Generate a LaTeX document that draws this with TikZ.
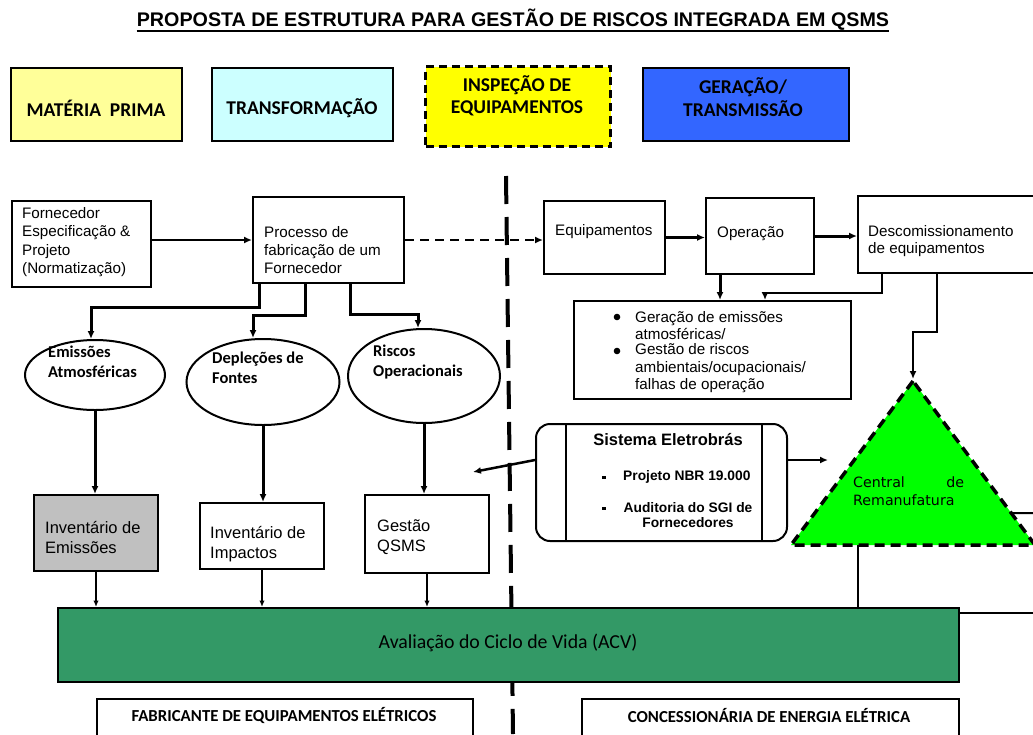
\documentclass[tikz,border=0pt]{standalone}
\usepackage{fontspec}
\setmainfont{Liberation Sans}
\newfontfamily\calfont{Carlito}
\newfontfamily\dejafont{DejaVu Sans}
\usetikzlibrary{arrows.meta,shapes.geometric,calc}
\definecolor{paleyellow}{HTML}{FFFF99}
\definecolor{palecyan}{HTML}{CCFFFF}
\definecolor{brightyellow}{HTML}{FFFF00}
\definecolor{royalblue}{HTML}{3366FF}
\definecolor{lightgray}{HTML}{C0C0C0}
\definecolor{acvgreen}{HTML}{339966}
\definecolor{limegreen}{HTML}{00FF00}
\begin{document}
\begin{tikzpicture}[x=1pt,y=-1pt,
  box/.style={draw=black,line width=2pt,anchor=north west,inner sep=0pt},
  txt/.style={anchor=west,inner sep=0pt,align=left,font=\fontsize{15.2}{17.8}\selectfont},
  bigtxt/.style={anchor=west,inner sep=0pt,align=left,font=\fontsize{16.5}{19.5}\selectfont},
  head/.style={inner sep=0pt,align=center,font=\calfont\bfseries\fontsize{19.5}{22.5}\selectfont},
  elltxt/.style={anchor=west,inner sep=0pt,align=left,font=\calfont\bfseries\fontsize{16.5}{20}\selectfont},
  ell/.style={draw=black,line width=2pt,ellipse,inner sep=0pt},
  conn/.style={line width=3pt,-{Latex[length=8pt,width=7pt]}},
  thinconn/.style={line width=2.2pt,-{Latex[length=6.5pt,width=5.5pt]}},
  plain/.style={line width=2pt},
  divider/.style={line width=4pt,dash pattern=on 28pt off 13pt},
]
\useasboundingbox (0,0) rectangle (1033,734);

% title
\node[inner sep=0pt,font=\bfseries\fontsize{19.7}{22}\selectfont] (title) at (513,20) {PROPOSTA DE ESTRUTURA PARA GESTÃO DE RISCOS INTEGRADA EM QSMS};
\draw[line width=1.6pt] ($(title.base west)+(0,4)$) -- ($(title.base east)+(0,4)$);

% stage headers
\node[box,fill=paleyellow,minimum width=171,minimum height=73] (mat) at (10,67) {};
\node[head] (mat-t) at (96,108) {MATÉRIA\ \ PRIMA};
\node[box,fill=palecyan,minimum width=181,minimum height=73] (tra) at (211,67) {};
\node[head] (tra-t) at (302,108) {TRANSFORMAÇÃO};
\node[box,fill=brightyellow,line width=3pt,dash pattern=on 8pt off 5pt,minimum width=185,minimum height=80] (ins) at (424,65) {};
\node[head] (ins-t) at (517,96) {INSPEÇÃO DE\\EQUIPAMENTOS};
\node[box,fill=royalblue,minimum width=206,minimum height=73] (ger) at (642,67) {};
\node[head] (ger-t) at (743,97) {GERAÇÃO/\\TRANSMISSÃO};

% divider between manufacturer and utility
\draw[divider] (506,176) -- (513,734);

% manufacturer chain
\node[box,minimum width=139,minimum height=86] (forn) at (11,200) {};
\node[txt,font=\fontsize{15.2}{18.5}\selectfont] (forn-t) at (22,242) {Fornecedor\\Especificação \&\\Projeto\\(Normatização)};
\node[box,minimum width=151,minimum height=86] (proc) at (252,196) {};
\node[txt] (proc-t) at (264,250) {Processo de\\fabricação de um\\Fornecedor};

% utility chain
\node[box,minimum width=121,minimum height=73] (equip) at (543,200) {};
\node[txt] (equip-t) at (555,232) {Equipamentos};
\node[box,minimum width=108,minimum height=76] (oper) at (705,197) {};
\node[txt] (oper-t) at (717,234) {Operação};
\node[box,minimum width=190,minimum height=77] (desc) at (857,195) {};
\node[txt] (desc-t) at (868,241) {Descomissionamento\\de equipamentos};

\node[box,minimum width=277,minimum height=98] (list) at (573,300) {};
\fill (617,317) circle (3.3);
\fill (617,351) circle (3.3);
\node[txt,font=\fontsize{15.2}{17.5}\selectfont] (list-a) at (635,325.5) {Geração de emissões\\atmosféricas/};
\node[txt,font=\fontsize{15.2}{17.5}\selectfont] (list-b) at (635,368.5) {Gestão de riscos\\ambientais/ocupacionais/\\falhas de operação};

% impact ellipses
\node[ell,minimum width=140,minimum height=70] (e1) at (95,375) {};
\node[elltxt] (e1-t) at (48,362) {Emissões\\Atmosféricas};
\node[ell,minimum width=153,minimum height=86] (e2) at (263,382) {};
\node[elltxt] (e2-t) at (212,368) {Depleções de\\Fontes};
\node[ell,minimum width=152,minimum height=94] (e3) at (424,376) {};
\node[elltxt] (e3-t) at (373,362) {Riscos\\Operacionais};

% inventories
\node[box,fill=lightgray,minimum width=124,minimum height=76] (b1) at (33,494) {};
\node[bigtxt] (b1-t) at (45,537.5) {Inventário de\\Emissões};
\node[box,minimum width=124,minimum height=66] (b2) at (199,502) {};
\node[bigtxt] (b2-t) at (210,544) {Inventário de\\Impactos};
\node[box,minimum width=124,minimum height=78] (b3) at (364,494) {};
\node[bigtxt] (b3-t) at (377,537) {Gestão\\QSMS};

% Sistema Eletrobrás
\node[box,rounded corners=14pt,fill=white,minimum width=251,minimum height=117] (sis) at (535,423) {};
\draw[plain] ($(sis.north west)+(31,0)$) -- ($(sis.south west)+(31,0)$);
\draw[plain] ($(sis.north east)+(-26,0)$) -- ($(sis.south east)+(-26,0)$);
\node[inner sep=0pt,font=\bfseries\fontsize{16.5}{18}\selectfont] (sis-t) at (668,440) {Sistema Eletrobrás};
\fill (602,475.5) rectangle (605.5,479);
\fill (602,506.5) rectangle (605.5,510);
\node[anchor=west,inner sep=0pt,font=\bfseries\fontsize{13.8}{15}\selectfont] (sis-a) at (623,477) {Projeto NBR 19.000};
\node[inner sep=0pt,align=center,font=\bfseries\fontsize{13.8}{15}\selectfont] (sis-b) at (688,515.5) {Auditoria do SGI de\\Fornecedores};

% remanufacturing triangle
\coordinate (apex) at (913,381);
\coordinate (tl) at (791,545);
\coordinate (tr) at (1035,545);
\draw[fill=limegreen,line width=3.5pt,dash pattern=on 10pt off 6pt] (apex) -- (tl) -- (tr) -- cycle;
\node[anchor=west,inner sep=0pt,align=left,font=\dejafont\fontsize{14.2}{18}\selectfont] (tri-t) at (853,491) {\makebox[111pt][l]{Central\hfill de}\\Remanufatura};

% life cycle assessment
\node[box,fill=acvgreen,minimum width=901,minimum height=74] (acv) at (57,607) {};
\node[inner sep=0pt,font=\calfont\fontsize{19.8}{22}\selectfont] (acv-t) at (508,643) {Avaliação do Ciclo de Vida (ACV)};

% bottom labels
\node[box,line width=1.5pt,fill=white,minimum width=376,minimum height=50] (fab) at (96,698) {};
\node[inner sep=0pt,font=\calfont\bfseries\fontsize{16.8}{18}\selectfont] (fab-t) at (284,715) {FABRICANTE DE EQUIPAMENTOS ELÉTRICOS};
\node[box,line width=1.5pt,fill=white,minimum width=377,minimum height=50] (con) at (581,698) {};
\node[inner sep=0pt,font=\calfont\bfseries\fontsize{16.8}{18}\selectfont] (con-t) at (769,715) {CONCESSIONÁRIA DE ENERGIA ELÉTRICA};

% connectors: manufacturer
\draw[conn,line width=2.5pt] (forn.east |- proc.west) -- (proc.west);
\draw[line width=2pt,dash pattern=on 9pt off 6pt,-{Latex[length=8pt,width=7pt]}] (proc.east) -- (proc.east -| equip.west);
\coordinate (p1) at ($(proc.south west)+(7,0)$);
\coordinate (p2) at ($(proc.south west)+(53,0)$);
\coordinate (p3) at ($(proc.south west)+(98,0)$);
\coordinate (e1in) at ($(e1.north)+(-4,0)$);
\coordinate (e2in) at ($(e2.north)+(-10,0)$);
\coordinate (e3in) at ($(e3.north)+(-6,0)$);
\draw[conn] (p1) -- ++(0,23) -| (e1in);
\draw[conn] (p2) -- ++(0,31) -| (e2in);
\draw[conn] (p3) -- ++(0,30) -| (e3in);
\draw[conn] (e1.south) -- (e1.south |- b1.north);
\draw[conn] (e2.south) -- (e2.south |- b2.north);
\draw[conn] (e3.south) -- (e3.south |- b3.north);
\draw[thinconn] (b1.south) -- (b1.south |- acv.north);
\draw[thinconn] (b2.south) -- (b2.south |- acv.north);
\draw[thinconn] (b3.south) -- (b3.south |- acv.north);

% connectors: utility
\draw[conn] (equip.east) -- (equip.east -| oper.west);
\draw[conn] (oper.east) -- (oper.east -| desc.west);
\coordinate (o1) at ($(oper.south west)+(15,0)$);
\draw[conn] (o1) -- (o1 |- list.north);
\coordinate (d1) at ($(desc.south west)+(25,0)$);
\coordinate (l1) at ($(list.north west)+(192,0)$);
\draw[line width=2.5pt,-{Latex[length=8pt,width=7pt]}] (d1) -- ++(0,19) -| (l1);
\coordinate (d2) at ($(desc.south west)+(80,0)$);
\draw[line width=2.5pt,-{Latex[length=8pt,width=7pt]},shorten >=2pt] (d2) -- ++(0,58) -| (apex);

% connectors: Sistema Eletrobrás
\coordinate (sl) at (473,472);
\coordinate (sr) at (828,460);
\draw[line width=2.5pt,-{Latex[length=8pt,width=7pt]}] ($(sis.north west)+(0,37)$) -- (sl);
\draw[line width=2.5pt,-{Latex[length=8pt,width=7pt]}] ($(sis.north east)+(0,37)$) -- (sr);

% connectors: remanufacturing
\coordinate (tb) at (858,545);
\draw[plain] (tb) -- (tb |- acv.north);
\coordinate (edgeA) at (1040,513);
\draw[plain] ($(apex)!0.805!(tr)$) -- (edgeA);
\coordinate (edgeB) at (1040,613);
\draw[plain] ($(acv.north east)+(0,6)$) -- (edgeB);
\end{tikzpicture}
\end{document}
